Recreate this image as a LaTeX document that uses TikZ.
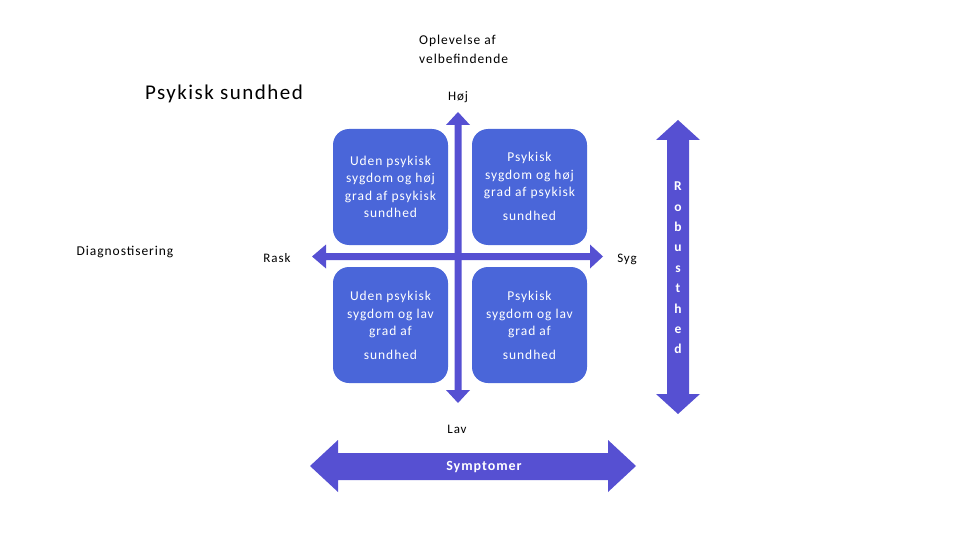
\documentclass[tikz,border=0pt]{standalone}
\usepackage{fontspec}
\setmainfont[LetterSpace=7]{Carlito}
\usetikzlibrary{shapes.arrows}
\definecolor{boxblue}{HTML}{4A66D9}
\definecolor{arrowblue}{HTML}{5650D2}
\begin{document}
\begin{tikzpicture}[x=1pt,y=-1pt,
  quad/.style={fill=boxblue, rounded corners=16pt, minimum width=115pt, minimum height=116pt, draw=none, inner sep=0pt},
  qtext/.style={text=white, align=center, font=\fontsize{13.5}{17.5}\selectfont},
  lbl/.style={font=\fontsize{13}{16}\selectfont, text=black, inner sep=0pt},
]
\useasboundingbox (0,0) rectangle (960,540);

% quadrant boxes
\node[quad] (tl) at (390.5,187) {};
\node[quad] (tr) at (529.5,187) {};
\node[quad] (bl) at (390.5,325) {};
\node[quad] (br) at (529.5,325) {};

% axes (thin arrows)
\coordinate (vtop) at (458,112);
\coordinate (vbot) at (458,403);
\coordinate (hl) at (312,256.5);
\coordinate (hr) at (603,256.5);
\fill[arrowblue] (vtop) -- (470,125) -- (461.5,125) -- (461.5,390) -- (470,390) -- (vbot) -- (446,390) -- (454.5,390) -- (454.5,125) -- (446,125) -- cycle;
\fill[arrowblue] (hl) -- (326,244.5) -- (326,253) -- (590,253) -- (590,244.5) -- (hr) -- (590,268.5) -- (590,260) -- (326,260) -- (326,268.5) -- cycle;

% quadrant texts
\node[qtext] (tlt) at (390.5,187) {Uden psykisk\\sygdom og høj\\grad af psykisk\\sundhed};
\node[qtext, anchor=north] (trt) at (529.5,149) {Psykisk\\sygdom og høj\\grad af psykisk\\[6pt]sundhed};
\node[qtext, anchor=north] (blt) at (390.5,288) {Uden psykisk\\sygdom og lav\\grad af\\[6pt]sundhed};
\node[qtext, anchor=north] (brt) at (529.5,288) {Psykisk\\sygdom og lav\\grad af\\[6pt]sundhed};

% big Symptomer arrow
\fill[arrowblue] (310,466) -- (338,440) -- (338,453) -- (608,453) -- (608,440) -- (636,466) -- (608,492) -- (608,480) -- (338,480) -- (338,492) -- cycle;
\node[font=\bfseries\fontsize{14}{16}\selectfont, text=white] (sym) at (484,467) {Symptomer};

% Robusthed arrow
\fill[arrowblue] (678,120) -- (700,140) -- (689,140) -- (689,394) -- (700,394) -- (678,414) -- (656,394) -- (667,394) -- (667,140) -- (656,140) -- cycle;
\node[font=\bfseries\fontsize{13.5}{20.4}\selectfont, text=white, align=center] (rob) at (678,268) {R\\o\\b\\u\\s\\t\\h\\e\\d};

% labels
\node[lbl, align=left, anchor=north west, font=\fontsize{13.5}{18.5}\selectfont] (opl) at (419,35) {Oplevelse af\\velbefindende};
\node[lbl] (hoj) at (458,97) {Høj};
\node[font=\fontsize{21}{24}\selectfont, inner sep=0pt] (ps) at (224,94) {Psykisk sundhed};
\node[lbl, font=\fontsize{13.5}{16}\selectfont] (diag) at (125,252) {Diagnostisering};
\node[lbl] (rask) at (277,258) {Rask};
\node[lbl] (syg) at (627,259) {Syg};
\node[lbl] (lav) at (457,429) {Lav};
\end{tikzpicture}
\end{document}
